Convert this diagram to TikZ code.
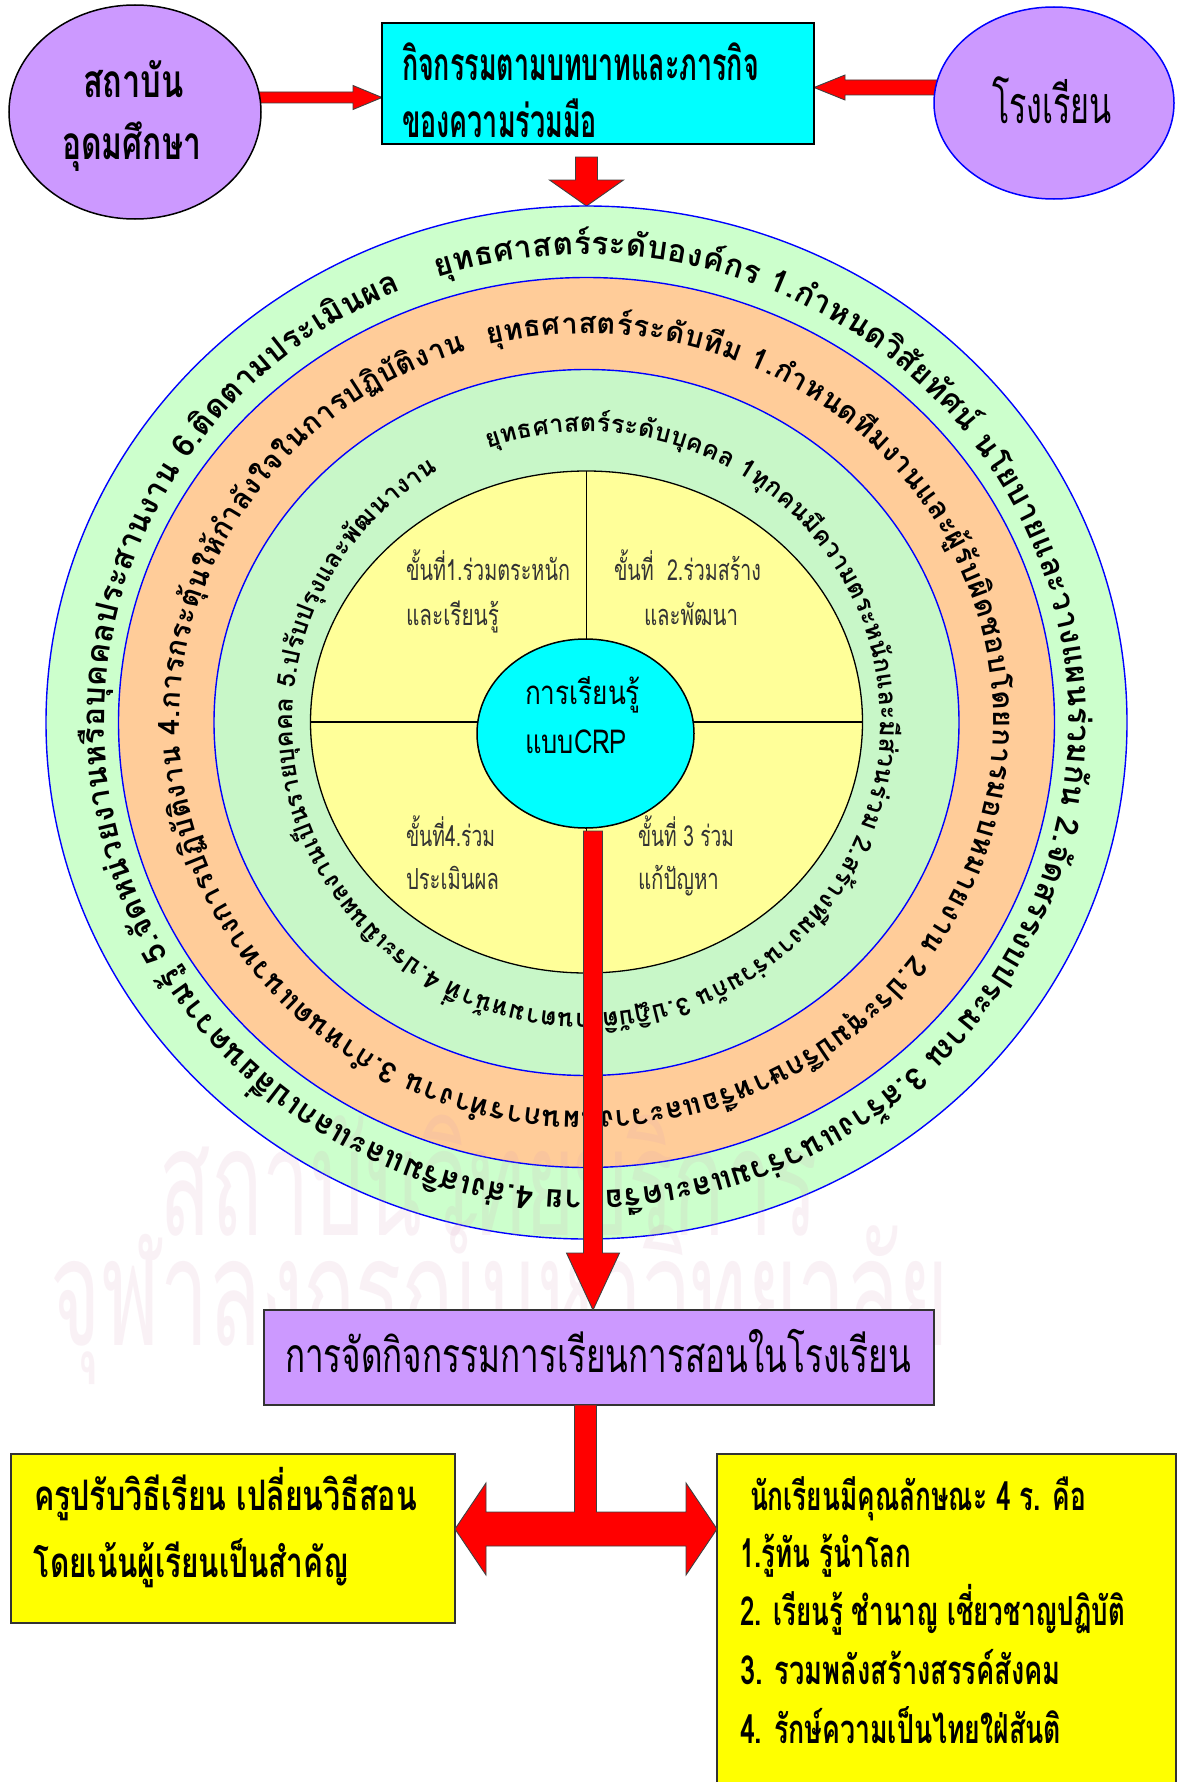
\documentclass[tikz,border=0pt]{standalone}
\usepackage{fontspec}
\usepackage{graphicx}
\usetikzlibrary{decorations.text,calc,shapes.geometric}
\newfontfamily\thai{Loma}[Script=Thai]
\pgfdeclarelayer{paper}
\pgfdeclarelayer{back}
\pgfsetlayers{paper,back,main}
\definecolor{ringgreen}{RGB}{204,255,204}
\definecolor{ringgreenB}{RGB}{200,247,200}
\definecolor{ringorange}{RGB}{255,204,153}
\definecolor{ringblue}{RGB}{0,0,255}
\definecolor{coreyellow}{RGB}{255,255,153}
\definecolor{aqua}{RGB}{0,255,255}
\definecolor{lilac}{RGB}{204,153,255}
\definecolor{boxyellow}{RGB}{255,255,0}
\definecolor{wmpink}{RGB}{215,150,185}
\definecolor{arrowred}{RGB}{255,0,0}
\newsavebox\fitbox
\newlength\fitlen
\newcommand\fitw[2]{\sbox\fitbox{#2}\setlength\fitlen{\wd\fitbox}\pgfmathsetmacro\fitscale{#1/\fitlen}\scalebox{\fitscale}[1]{\usebox\fitbox}}
\newcommand\tf[1]{\thai\fontsize{#1}{#1}\selectfont}
\newcommand\tb[1]{\thai\bfseries\fontsize{#1}{#1}\selectfont}
\newcommand\rfA{\tb{31.5}}
\newcommand\rfB{\tb{29}}
\newcommand\rfC{\tb{25}}
\begin{document}
\begin{tikzpicture}[x=1pt,y=-1pt]
\tikzset{every node/.style={inner sep=0pt,outer sep=0pt},
  ringshape/.style={ellipse,draw=ringblue,line width=1.4pt},
  redarrow/.style={fill=arrowred,draw=black!75,line width=0.9pt},
  qtext/.style={anchor=base west,text=black!80},
  ltext/.style={anchor=base west},
  mtext/.style={anchor=base},
  wmark/.style={anchor=base,text=wmpink,text opacity=0.13}}
\useasboundingbox (0,0) rectangle (1178,1782);
\begin{pgfonlayer}{paper}
\fill[white] (0,0) rectangle (1178,1782);
\end{pgfonlayer}
\coordinate (C) at (586.5,722.5);
% rings
\node[ringshape,fill=ringgreen,minimum width=1081,minimum height=1033] (ringA) at (C) {};
\node[ringshape,fill=ringorange,minimum width=936,minimum height=890] (ringB) at (C) {};
\node[ringshape,fill=ringgreenB,minimum width=745,minimum height=706] (ringC) at (C) {};
% watermark
\node[wmark] (wm1) at (489,1235) {\fitw{658}{\tf{150}สถาบันวิทยบริการ}};
\node[wmark] (wm2) at (500,1345) {\fitw{898}{\tf{150}จุฬาลงกรณ์มหาวิทยาลัย}};
% ring texts
\path[decorate,decoration={text along path,text align={fit to path},
  text={|\rfA|{ยุ}ทธศาสต{ร์}ระ{ดั}บอง{ค์}กร 1.{กำ}หนด{วิ}{สั}ย{ทั}ศ{น์} นโยบายและวางแผน{ร่}วม{กั}น 2.{จั}ดสรรงบประมาณ 3.ส{ร้}างแนว{ร่}วมและเค{รื}อ{ข่}าย 4.{ส่}งเส{ริ}มและแลกเป{ลี่}ยนความ{รู้} 5.{จั}ดห{น่}วยงานห{รื}อ{บุ}คคลประสานงาน 6.{ติ}ดตามประเ{มิ}นผล{\kern1pt}}}]
  ($(C)+(252:482 and 468)$) arc[start angle=252,end angle=607.5,x radius=482,y radius=468];
\path[decorate,decoration={text along path,text align={fit to path},
  text={|\rfB|{ยุ}ทธศาสต{ร์}ระ{ดั}บ{ที}ม 1.{กำ}หนด{ที}มงานและ{ผู้}{รั}บ{ผิ}ดชอบโดยการมอบหมายงาน 2.ประ{ชุ}มป{รึ}กษาห{รื}อและวางแผนการ{ทำ}งาน 3.{กำ}หนดแนวทางการป{ฏิ}{บั}{ติ}งาน 4.การกระ{ตุ้}นใ{ห้}{กำ}{ลั}งใจในการป{ฏิ}{บั}{ติ}งาน{\kern1pt}}}]
  ($(C)+(256:407 and 389)$) arc[start angle=256,end angle=613,x radius=407,y radius=389];
\path[decorate,decoration={text along path,text align={fit to path},
  text={|\rfC|{ยุ}ทธศาสต{ร์}ระ{ดั}บ{บุ}คคล 1{ทุ}กคน{มี}ความตระห{นั}กและ{มี}{ส่}วน{ร่}วม 2.ส{ร้}าง{ที}มงาน{ร่}วม{กั}น 3.ป{ฏิ}{บั}{ติ}งานตามห{น้}า{ที่} 4.ประเ{มิ}นผลงานเ{ป็}นราย{บุ}คคล 5.ป{รั}บป{รุ}งและ{พั}ฒนางาน{\kern1pt}}}]
  ($(C)+(250.5:294 and 291)$) arc[start angle=250.5,end angle=600,x radius=294,y radius=291];
% core
\node[ellipse,draw=black,line width=1.3pt,fill=coreyellow,minimum width=552,minimum height=502] (yel) at (586.5,722) {};
\draw[line width=1.2pt] (yel.north) -- (yel.south);
\draw[line width=1.2pt] (yel.west) -- (yel.east);
\node[qtext] (q1a) at (406,580) {\fitw{164}{\tf{29}ขั้นที่1.ร่วมตระหนัก}};
\node[qtext] (q1b) at (406,625) {\fitw{93}{\tf{29}และเรียนรู้}};
\node[qtext] (q2a) at (614,580) {\fitw{147}{\tf{29}ขั้นที่\ \ 2.ร่วมสร้าง}};
\node[qtext] (q2b) at (644,625) {\fitw{94}{\tf{29}และพัฒนา}};
\node[qtext] (q4a) at (406,846) {\fitw{89}{\tf{29}ขั้นที่4.ร่วม}};
\node[qtext] (q4b) at (406,889) {\fitw{93}{\tf{29}ประเมินผล}};
\node[qtext] (q3a) at (638,846) {\fitw{96}{\tf{29}ขั้นที่ 3 ร่วม}};
\node[qtext] (q3b) at (638,889) {\fitw{81}{\tf{29}แก้ปัญหา}};
\node[ellipse,draw=black,line width=1.5pt,fill=aqua,minimum width=217,minimum height=189] (crp) at (585.5,733.5) {};
\node[ltext] (crp1) at (525,704) {\fitw{115}{\tf{33}การเรียนรู้}};
\node[ltext] (crp2) at (525,753) {\fitw{102}{\tf{33}แบบCRP}};
% top nodes
\node[ellipse,draw=black,line width=1.5pt,fill=lilac,minimum width=252,minimum height=214] (inst) at (135,112) {};
\node[draw=black,line width=1.8pt,fill=aqua,minimum width=432,minimum height=121] (coop) at (598,83.5) {};
\node[ellipse,draw=blue,line width=1.5pt,fill=lilac,minimum width=240,minimum height=192] (school) at (1054,103) {};
\node[mtext] (tx1) at (133.5,98) {\fitw{101}{\tb{46}สถาบัน}};
\node[mtext] (tx2) at (131.5,159) {\fitw{139}{\tb{46}อุดมศึกษา}};
\node[ltext] (tx3) at (402,81) {\fitw{357}{\tb{46}กิจกรรมตามบทบาทและภารกิจ}};
\node[ltext] (tx4) at (402,137) {\fitw{195}{\tb{46}ของความร่วมมือ}};
\node[mtext] (tx5) at (1052,124) {\fitw{120}{\tf{52}โรงเรียน}};
% bottom nodes
\node[draw=black!80,line width=1.5pt,fill=lilac,minimum width=670,minimum height=95] (teach) at (599,1357.5) {};
\node[draw=black!80,line width=1.5pt,fill=boxyellow,minimum width=444,minimum height=169] (teacher) at (233,1538.5) {};
\node[draw=black!80,line width=1.5pt,fill=boxyellow,minimum width=459,minimum height=360] (student) at (946.5,1634) {};
\node[mtext] (tx6) at (598,1372) {\fitw{626}{\tf{48}การจัดกิจกรรมการเรียนการสอนในโรงเรียน}};
\node[ltext] (tx7) at (34,1510) {\fitw{383}{\tb{42}ครูปรับวิธีเรียน เปลี่ยนวิธีสอน}};
\node[ltext] (tx8) at (34,1577) {\fitw{315}{\tb{42}โดยเน้นผู้เรียนเป็นสำคัญ}};
\node[ltext] (tx9) at (750,1510) {\fitw{336}{\tb{40}นักเรียนมีคุณลักษณะ 4 ร. คือ}};
\node[ltext] (tx10) at (740,1567) {\fitw{171}{\tb{40}1.รู้ทัน รู้นำโลก}};
\node[ltext] (tx11) at (740,1625) {\fitw{385}{\tb{40}2. เรียนรู้ ชำนาญ เชี่ยวชาญปฏิบัติ}};
\node[ltext] (tx12) at (740,1684) {\fitw{321}{\tb{40}3. รวมพลังสร้างสรรค์สังคม}};
\node[ltext] (tx13) at (740,1743) {\fitw{321}{\tb{40}4. รักษ์ความเป็นไทยใฝ่สันติ}};
% arrows behind top nodes
\begin{pgfonlayer}{back}
\coordinate (a1s) at ($(inst.east)+(0,-14.5)$);
\coordinate (a1e) at (coop.west |- a1s);
\filldraw[redarrow] ($(a1s)+(-4,-5.5)$) -- ($(a1e)+(-29,-5.5)$) -- ($(a1e)+(-29,-12)$) -- (a1e) -- ($(a1e)+(-29,12)$) -- ($(a1e)+(-29,5.5)$) -- ($(a1s)+(-4,5.5)$) -- cycle;
\coordinate (a2s) at ($(school.west)+(0,-15.5)$);
\coordinate (a2e) at (coop.east |- a2s);
\filldraw[redarrow] ($(a2s)+(4,-7.5)$) -- ($(a2e)+(31,-7.5)$) -- ($(a2e)+(31,-12.5)$) -- (a2e) -- ($(a2e)+(31,12.5)$) -- ($(a2e)+(31,7.5)$) -- ($(a2s)+(4,7.5)$) -- cycle;
\coordinate (a3e) at (ringA.north);
\coordinate (a3s) at (a3e |- coop.south);
\filldraw[redarrow] ($(a3s)+(-11,13)$) -- ($(a3e)+(-11,-26)$) -- ($(a3e)+(-37,-26)$) -- (a3e) -- ($(a3e)+(37,-26)$) -- ($(a3e)+(11,-26)$) -- ($(a3s)+(11,13)$) -- cycle;
\end{pgfonlayer}
% big arrow from CRP to teaching box
\coordinate (bx) at (593,0);
\coordinate (a4s) at (bx |- crp.south);
\coordinate (a4e) at (bx |- teach.north);
\filldraw[redarrow] ($(a4s)+(-9.5,3)$) -- ($(a4e)+(-9.5,-57)$) -- ($(a4e)+(-26.5,-57)$) -- (a4e) -- ($(a4e)+(26.5,-57)$) -- ($(a4e)+(9.5,-57)$) -- ($(a4s)+(9.5,3)$) -- cycle;
% T double arrow
\coordinate (t0) at (crp.center |- teach.south);
\coordinate (tl) at ($(teacher.east)+(0,-9.5)$);
\coordinate (tr) at (student.west |- tl);
\coordinate (tm) at (t0 |- tl);
\filldraw[redarrow] ($(t0)+(-11,0)$) -- ($(tm)+(-11,-17)$) -- ($(tl)+(31,-17)$) -- ($(tl)+(31,-46)$) -- (tl) -- ($(tl)+(31,46)$) -- ($(tl)+(31,17)$) -- ($(tr)+(-31,17)$) -- ($(tr)+(-31,46)$) -- (tr) -- ($(tr)+(-31,-46)$) -- ($(tr)+(-31,-17)$) -- ($(tm)+(11,-17)$) -- ($(t0)+(11,0)$) -- cycle;
\end{tikzpicture}
\end{document}
